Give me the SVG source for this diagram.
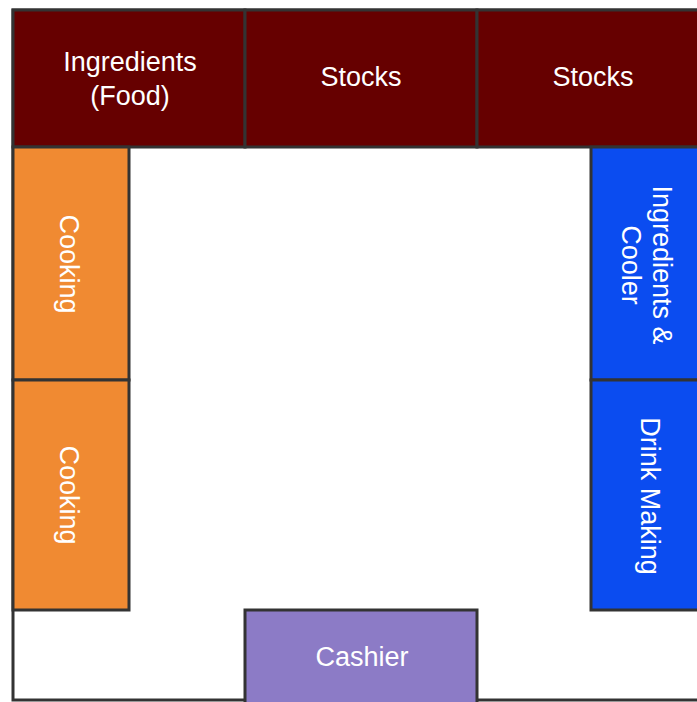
<svg xmlns="http://www.w3.org/2000/svg" width="697" height="702" viewBox="0 0 697 702">
<style>
.b{stroke:#333;stroke-width:3}
.red{fill:#660000}
.org{fill:#F08A32}
.blu{fill:#0B4CF0}
.pur{fill:#8C7BC6}
text{font-family:"Liberation Sans",Arial,sans-serif;font-size:27px;fill:#fff;text-anchor:middle;dominant-baseline:central}
</style>
<rect x="0" y="0" width="697" height="702" fill="#fff"/>
<rect id="outline" x="13" y="10" width="700" height="690" fill="#fff" class="b"/>
<g id="ingredients-food"><rect x="13" y="10" width="232" height="137" class="red b"/><text x="130" y="62">Ingredients</text><text x="130" y="96">(Food)</text></g>
<g id="stocks-1"><rect x="245" y="10" width="232" height="137" class="red b"/><text x="361" y="77">Stocks</text></g>
<g id="stocks-2"><rect x="477" y="10" width="232" height="137" class="red b"/><text x="593" y="77">Stocks</text></g>
<g id="cooking-1"><rect x="13" y="147" width="116" height="233" class="org b"/><text transform="translate(69,264) rotate(90)">Cooking</text></g>
<g id="cooking-2"><rect x="13" y="380" width="116" height="230" class="org b"/><text transform="translate(69,495) rotate(90)">Cooking</text></g>
<g id="ingredients-cooler"><rect x="591" y="147" width="120" height="233" class="blu b"/><text transform="translate(646,265) rotate(90)"><tspan x="0" dy="-16">Ingredients &amp;</tspan><tspan x="0" dy="31">Cooler</tspan></text></g>
<g id="drink-making"><rect x="591" y="380" width="120" height="230" class="blu b"/><text transform="translate(650,496) rotate(90)">Drink Making</text></g>
<g id="cashier"><rect x="245" y="610" width="232" height="95" class="pur b"/><text x="362" y="657">Cashier</text></g>
<g id="connectors"/>
</svg>
